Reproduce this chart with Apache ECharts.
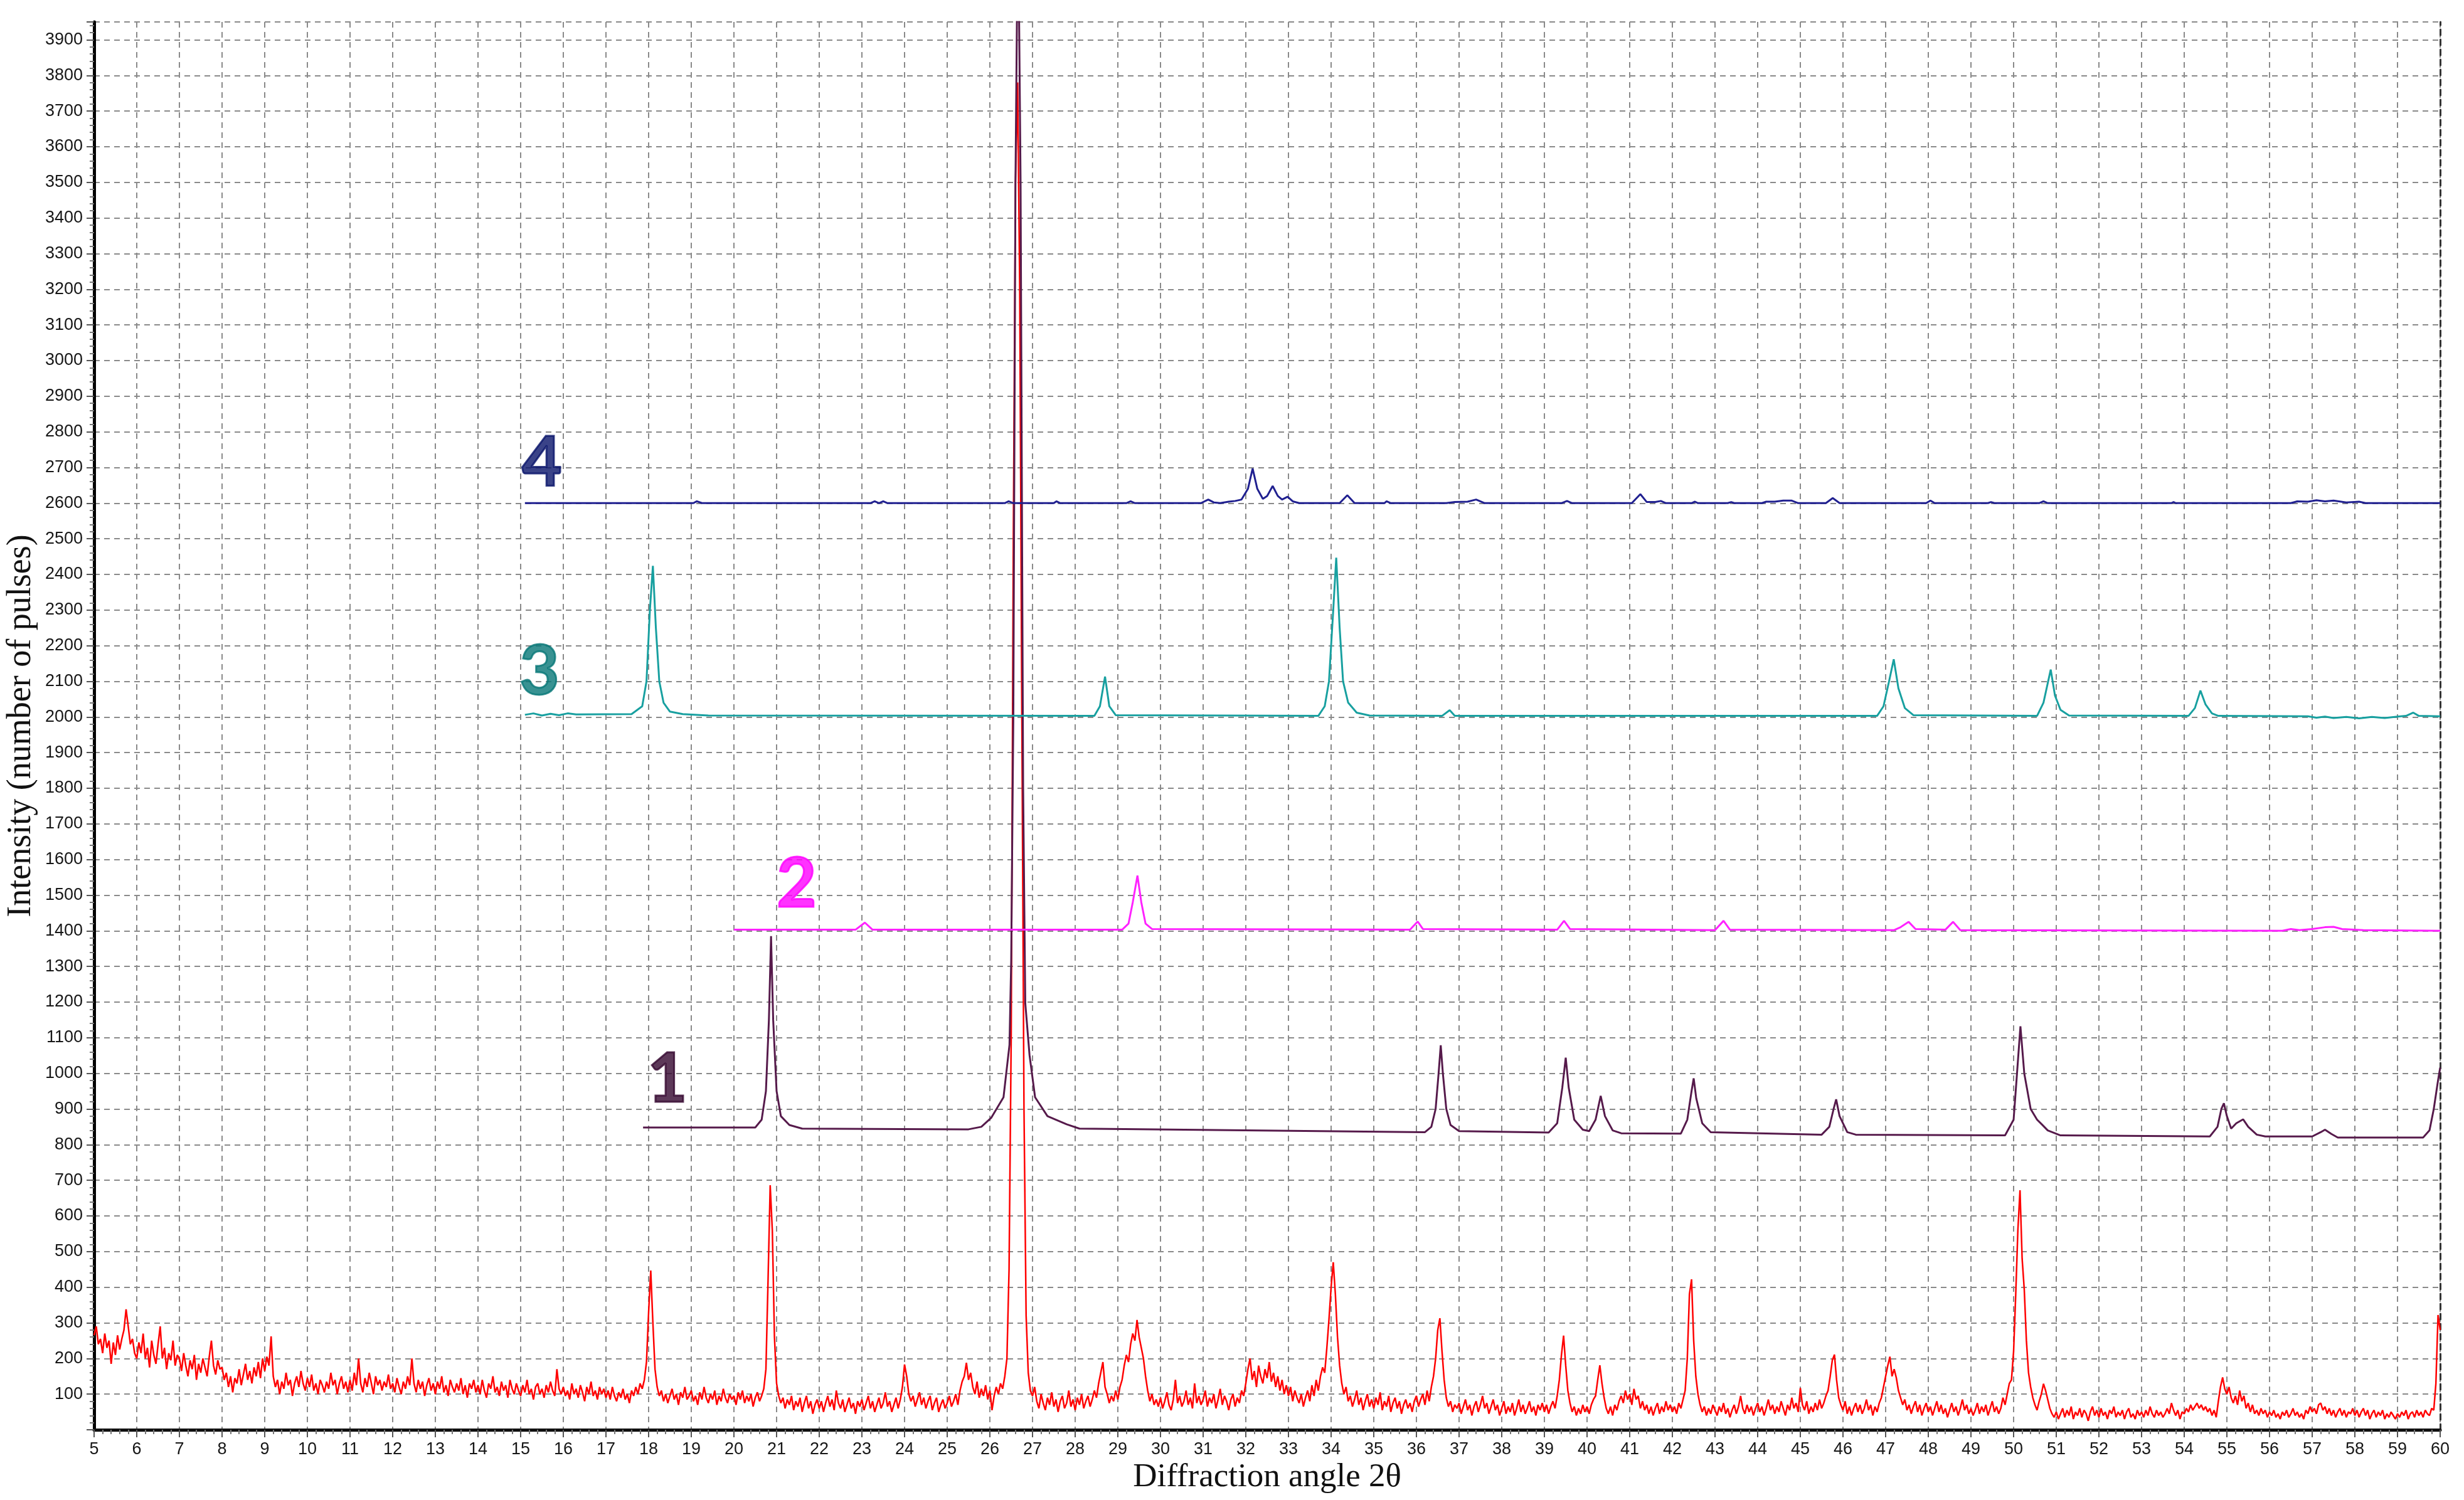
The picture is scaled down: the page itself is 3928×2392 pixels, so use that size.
<!DOCTYPE html>
<html><head><meta charset="utf-8">
<script src="https://cdn.jsdelivr.net/npm/echarts@6/dist/echarts.min.js"></script>
<style>html,body{margin:0;padding:0;background:#fff}#c{width:3928px;height:2392px}</style>
</head><body><div id="c"></div>
<script>
// Raw (measured) pattern: 2θ from 5 to 60, step 0.05
const rawStart = 5, rawStep = 0.05;
const rawCounts = [
265,290,240,255,215,270,230,250,185,245,210,265,225,255,280,338,290,240,255,215,
200,245,215,270,200,230,175,250,210,185,240,290,200,230,170,215,195,250,180,210,
200,165,215,180,150,195,170,210,140,185,160,200,175,150,205,250,180,155,195,170,
175,140,160,120,150,105,145,130,170,125,155,185,140,165,130,175,150,190,145,200,
165,205,180,262,150,120,140,100,135,115,160,125,140,95,130,150,120,165,130,110,
145,120,155,110,130,100,140,125,105,135,115,160,125,140,100,130,150,115,135,105,
140,110,160,125,200,130,105,145,120,160,130,100,150,125,140,110,135,120,155,115,
130,105,145,120,100,135,115,150,125,200,130,105,140,115,135,95,125,145,110,130,
100,135,115,150,105,125,95,140,120,105,130,110,145,100,125,90,130,115,140,105,
125,100,140,110,90,130,115,150,105,120,95,135,110,125,90,140,115,100,130,110,
95,125,105,140,100,115,85,120,130,100,115,90,125,105,135,110,95,170,115,100,
120,95,110,85,130,100,115,90,125,105,80,120,100,135,95,110,85,120,100,115,
90,110,85,120,95,80,105,90,115,85,100,75,110,95,120,100,130,115,140,190,
330,447,300,170,120,95,110,80,100,75,95,115,85,100,70,105,90,120,85,95,
110,80,95,70,105,85,120,90,75,100,85,110,70,95,80,115,90,75,100,85,
95,70,105,85,110,75,95,80,100,65,90,105,80,95,115,170,420,686,560,260,
130,95,75,90,60,85,70,95,55,80,65,90,50,75,95,60,80,45,70,85,
60,80,50,75,95,65,85,55,110,75,60,85,50,70,90,60,75,45,80,65,
85,55,75,95,60,80,50,70,90,60,75,105,65,80,50,70,90,60,85,120,
183,150,100,80,95,65,85,105,70,90,60,80,95,55,75,90,50,70,85,60,
75,95,65,80,100,70,110,135,150,188,140,160,120,100,135,90,115,95,125,85,
110,55,95,120,100,130,115,150,200,450,1100,2500,3500,3780,3200,2000,900,320,160,110,
95,120,80,60,100,75,55,90,70,105,65,85,50,80,95,60,75,110,65,85,
55,90,70,100,60,80,95,65,85,110,90,130,160,190,120,100,75,95,80,110,
85,120,140,180,210,190,240,270,250,308,260,230,200,150,110,80,100,70,85,65,
90,60,80,105,70,55,85,140,75,95,65,80,110,70,90,60,130,75,95,70,
85,110,65,90,75,100,60,85,115,70,95,80,55,85,100,65,90,75,110,95,
130,170,200,140,165,120,180,150,130,170,145,190,135,160,120,150,110,140,100,125,
95,120,80,110,90,75,100,65,90,110,80,125,95,140,110,150,175,160,230,310,
400,470,380,260,180,130,100,120,80,95,65,85,110,70,90,55,80,100,65,85,
60,90,70,105,55,80,65,95,50,75,90,60,80,45,70,85,60,75,50,80,
95,65,85,100,70,110,80,120,150,200,280,313,220,140,90,65,80,50,70,60,
75,45,65,85,55,70,40,65,80,50,70,95,60,75,45,65,85,55,70,40,
60,80,45,65,50,75,40,60,85,50,70,45,60,80,50,65,40,70,55,75,
50,70,45,65,80,60,95,140,210,264,180,110,75,50,65,40,60,45,70,50,
65,45,70,85,95,140,181,130,90,60,45,65,40,70,55,80,95,75,110,85,
100,70,115,85,95,60,80,55,70,45,65,40,60,75,45,65,50,80,55,70,
50,65,45,75,60,85,110,200,380,422,250,150,100,70,50,65,40,60,45,70,
55,40,65,50,75,45,60,35,55,70,45,65,95,60,45,70,50,65,40,60,
75,50,65,40,60,85,55,70,45,65,50,80,60,40,70,55,90,60,75,50,
117,70,55,80,45,65,50,75,55,85,60,75,95,110,150,195,211,140,90,70,
55,80,45,65,40,60,75,50,70,45,60,85,55,70,40,65,50,75,90,120,
150,180,205,150,170,146,110,90,70,85,55,70,45,65,80,50,70,40,60,75,
50,65,40,60,80,50,70,45,60,35,55,75,50,65,40,60,85,55,70,45,
60,40,55,75,45,65,50,70,40,60,80,50,65,45,60,90,70,100,130,140,
220,380,560,672,480,393,250,160,120,90,70,55,80,100,129,110,85,60,45,35,
50,30,45,60,35,55,40,65,30,50,40,60,35,55,45,25,50,65,40,55,
35,60,40,50,30,55,45,65,35,50,40,55,30,50,60,35,45,30,55,40,
50,35,55,40,65,45,35,55,40,50,35,45,60,45,75,55,40,55,30,50,
45,60,50,70,55,65,75,60,70,55,65,50,60,40,55,35,80,120,147,115,
100,120,90,75,95,70,110,80,95,60,75,50,70,45,55,40,60,45,55,35,
50,40,55,35,45,30,50,40,55,35,45,60,40,50,35,45,30,55,45,65,
50,60,45,70,75,55,65,45,60,40,55,35,50,60,40,55,35,50,45,60,
40,55,35,50,60,40,55,30,45,55,35,50,40,55,30,45,35,50,40,30,
45,35,50,40,55,30,45,50,35,55,40,50,35,55,45,40,60,55,130,322,
280
];

// Reference patterns (offset), as [2θ, intensity] points
const pattern1 = [
[17.87,848],[20.5,848],[20.65,870],[20.75,950],[20.82,1150],[20.87,1385],[20.92,1150],[21.0,950],[21.1,880],[21.3,855],[21.6,845],
[25.5,843],[25.8,850],[26.03,875],[26.32,933],[26.46,1080],[26.5,1315],[26.55,2000],[26.6,3500],[26.66,4300],[26.72,3500],[26.78,1800],[26.83,1197],[26.93,1051],[27.06,933],[27.35,880],[27.8,857],[28.1,845],
[36.2,835],[36.35,850],[36.45,900],[36.52,1000],[36.57,1079],[36.62,1000],[36.7,900],[36.8,855],[37.0,838],
[39.1,834],[39.3,860],[39.42,960],[39.5,1044],[39.57,960],[39.7,870],[39.9,842],[40.05,838],[40.2,870],[40.32,937],[40.42,880],[40.6,840],[40.8,832],
[42.2,831],[42.35,870],[42.45,950],[42.5,986],[42.56,930],[42.7,860],[42.9,835],
[45.5,828],[45.68,850],[45.78,900],[45.84,927],[45.92,880],[46.1,835],[46.3,828],
[49.8,826],[50.0,870],[50.08,1000],[50.16,1132],[50.25,1000],[50.4,900],[50.55,870],[50.66,857],[50.8,840],[51.1,826],
[54.6,823],[54.78,850],[54.87,900],[54.93,916],[55.0,880],[55.1,845],[55.22,860],[55.38,871],[55.5,850],[55.7,828],[55.9,823],
[57.0,823],[57.2,835],[57.3,842],[57.45,830],[57.6,820],
[59.6,820],[59.75,840],[59.85,900],[59.95,980],[60.0,1016]
];
const pattern2 = [
[20.0,1403],[22.85,1403],[23.07,1423],[23.25,1403],[29.1,1403],[29.25,1420],[29.35,1480],[29.46,1555],[29.55,1480],[29.65,1420],[29.8,1405],
[35.85,1403],[36.03,1426],[36.15,1405],[39.3,1403],[39.46,1428],[39.6,1405],[43.0,1402],[43.2,1428],[43.35,1403],
[47.2,1402],[47.35,1410],[47.54,1425],[47.7,1405],[48.4,1403],[48.58,1425],[48.75,1402],
[56.3,1400],[56.5,1405],[56.7,1402],[57.0,1405],[57.3,1410],[57.5,1411],[57.7,1405],[58.2,1402],[60.0,1400]
];
const pattern3 = [
[15.1,2006],[15.3,2010],[15.5,2004],[15.7,2009],[15.9,2005],[16.1,2010],[16.3,2007],[17.6,2008],[17.85,2030],[17.95,2100],[18.03,2300],[18.1,2424],[18.17,2250],[18.25,2100],[18.35,2040],[18.5,2015],[18.8,2008],[19.4,2004],
[28.45,2003],[28.58,2030],[28.7,2113],[28.8,2030],[28.95,2005],
[33.7,2003],[33.85,2030],[33.95,2100],[34.05,2300],[34.12,2447],[34.2,2250],[34.28,2100],[34.4,2040],[34.6,2012],[34.9,2004],
[36.6,2003],[36.78,2019],[36.9,2003],
[46.8,2003],[46.95,2030],[47.08,2100],[47.19,2162],[47.3,2080],[47.45,2025],[47.65,2005],
[50.55,2003],[50.7,2040],[50.87,2133],[50.97,2060],[51.1,2020],[51.3,2004],
[54.1,2003],[54.25,2025],[54.38,2074],[54.5,2035],[54.65,2010],[54.8,2003],
[56.9,2002],[57.1,1998],[57.3,2001],[57.5,1997],[57.8,2000],[58.1,1996],[58.4,2000],[58.7,1997],[59.0,2001],[59.2,2003],[59.37,2012],[59.5,2003],[60.0,2002]
];
const pattern4 = [
[15.1,2600],[19.05,2600],[19.13,2605],[19.25,2600],[23.2,2600],[23.3,2605],[23.4,2600],[23.5,2605],[23.6,2600],[26.35,2600],[26.44,2605],[26.55,2600],
[27.5,2600],[27.56,2605],[27.65,2600],[29.2,2600],[29.3,2605],[29.4,2600],[30.95,2600],[31.12,2610],[31.25,2602],[31.4,2600],[31.6,2604],[31.75,2606],[31.9,2610],
[32.05,2640],[32.16,2697],[32.27,2640],[32.4,2612],[32.5,2620],[32.63,2648],[32.75,2620],[32.85,2610],[32.98,2618],[33.1,2605],[33.25,2600],
[34.2,2600],[34.38,2622],[34.55,2600],[35.25,2600],[35.3,2605],[35.4,2600],[36.7,2600],[36.9,2603],[37.2,2604],[37.4,2610],[37.6,2600],
[39.4,2600],[39.53,2606],[39.65,2600],[41.05,2600],[41.25,2625],[41.4,2603],[41.6,2603],[41.73,2606],[41.85,2600],[42.45,2600],[42.53,2604],[42.6,2600],
[43.3,2600],[43.38,2603],[43.45,2600],[44.1,2600],[44.2,2604],[44.4,2604],[44.6,2607],[44.8,2607],[44.95,2600],[45.6,2600],[45.76,2614],[45.92,2600],
[47.95,2600],[48.05,2607],[48.15,2600],[49.4,2600],[49.47,2603],[49.55,2600],[50.6,2600],[50.7,2605],[50.8,2600],[53.7,2600],[53.75,2603],[53.8,2600],
[56.5,2600],[56.65,2605],[56.9,2604],[57.1,2608],[57.3,2605],[57.5,2607],[57.8,2602],[58.1,2604],[58.25,2600],[60.0,2600]
];

const curveNames = ['1', '2', '3', '4'];
const curveLabelAt = [[18.44, 982], [21.47, 1530], [15.44, 2127], [15.5, 2713]];
const curveColors = ['#561a4b', '#ff22ff', '#18a0a0', '#202090'];
const labelColors = ['#340730', '#ff00ff', '#067777', '#09146a'];
const rawColor = '#ff0000';

const xTitle = 'Diffraction angle 2θ';
const yTitle = 'Intensity (number of pulses)';

const rawData = rawCounts.map((v, i) => [+(rawStart + i * rawStep).toFixed(2), v]);

const chart = echarts.init(document.getElementById('c'), null, {renderer: 'canvas'});
const gridLine = {show: true, lineStyle: {color: '#8a8a8a', width: 2, type: [9, 7]}};
const tickFont = {fontFamily: 'Liberation Sans', fontSize: 27, color: '#161616'};

chart.setOption({
  animation: false,
  backgroundColor: '#ffffff',
  grid: {left: 150, right: 38, top: 35, bottom: 112, outerBoundsMode: 'none'},
  xAxis: [{
    type: 'value', min: 5, max: 60, interval: 1,
    axisLine: {show: true, lineStyle: {color: '#000', width: 5}},
    axisTick: {show: true, inside: false, length: 12, lineStyle: {color: '#555', width: 2}},
    minorTick: {show: true, splitNumber: 5, length: 7, lineStyle: {color: '#777', width: 2}},
    axisLabel: Object.assign({margin: 18}, tickFont),
    splitLine: gridLine,
    name: xTitle, nameLocation: 'middle', nameGap: 50,
    nameTextStyle: {fontFamily: 'Liberation Serif', fontSize: 53, color: '#111'}
  }, {
    type: 'value', position: 'top', min: 5, max: 60,
    axisLine: {show: true, lineStyle: {color: '#111', width: 4}},
    axisTick: {show: false}, axisLabel: {show: false}, splitLine: {show: false}
  }],
  yAxis: [{
    type: 'value', min: 0, max: 3950, interval: 100,
    axisLine: {show: true, lineStyle: {color: '#000', width: 5}},
    axisTick: {show: true, inside: false, length: 12, lineStyle: {color: '#555', width: 2}},
    minorTick: {show: true, splitNumber: 5, length: 7, lineStyle: {color: '#777', width: 2}},
    axisLabel: Object.assign({margin: 18, formatter: v => (v > 0 && v % 100 === 0) ? String(v) : ''}, tickFont),
    splitLine: gridLine,
    name: yTitle, nameLocation: 'middle', nameGap: 78, nameRotate: 90,
    nameTextStyle: {fontFamily: 'Liberation Serif', fontSize: 54, color: '#111'}
  }, {
    type: 'value', position: 'right', min: 0, max: 3950,
    axisLine: {show: true, lineStyle: {color: '#333', width: 3, type: [9, 7]}},
    axisTick: {show: false}, axisLabel: {show: false}, splitLine: {show: false}
  }],
  series: [
    {type: 'line', name: 'raw', data: rawData, showSymbol: false, symbol: 'none', z: 3,
     lineStyle: {color: rawColor, width: 2.5}},
    {type: 'line', name: curveNames[0], data: pattern1, symbol: 'none', z: 4, lineStyle: {color: curveColors[0], width: 3}},
    {type: 'line', name: curveNames[1], data: pattern2, symbol: 'none', z: 4, lineStyle: {color: curveColors[1], width: 3}},
    {type: 'line', name: curveNames[2], data: pattern3, symbol: 'none', z: 4, lineStyle: {color: curveColors[2], width: 3}},
    {type: 'line', name: curveNames[3], data: pattern4, symbol: 'none', z: 4, lineStyle: {color: curveColors[3], width: 3}},
    {type: 'scatter', symbolSize: 0, z: 6, silent: true,
     data: curveNames.map((n, i) => ({
       value: curveLabelAt[i], name: n,
       itemStyle: {color: labelColors[i]},
       label: {show: true, position: 'inside', formatter: n, color: labelColors[i],
               textBorderColor: labelColors[i], textBorderWidth: 3,
               fontFamily: 'Lato', fontWeight: 'bold', fontSize: 110}
     }))}
  ]
});
</script>
</body></html>
